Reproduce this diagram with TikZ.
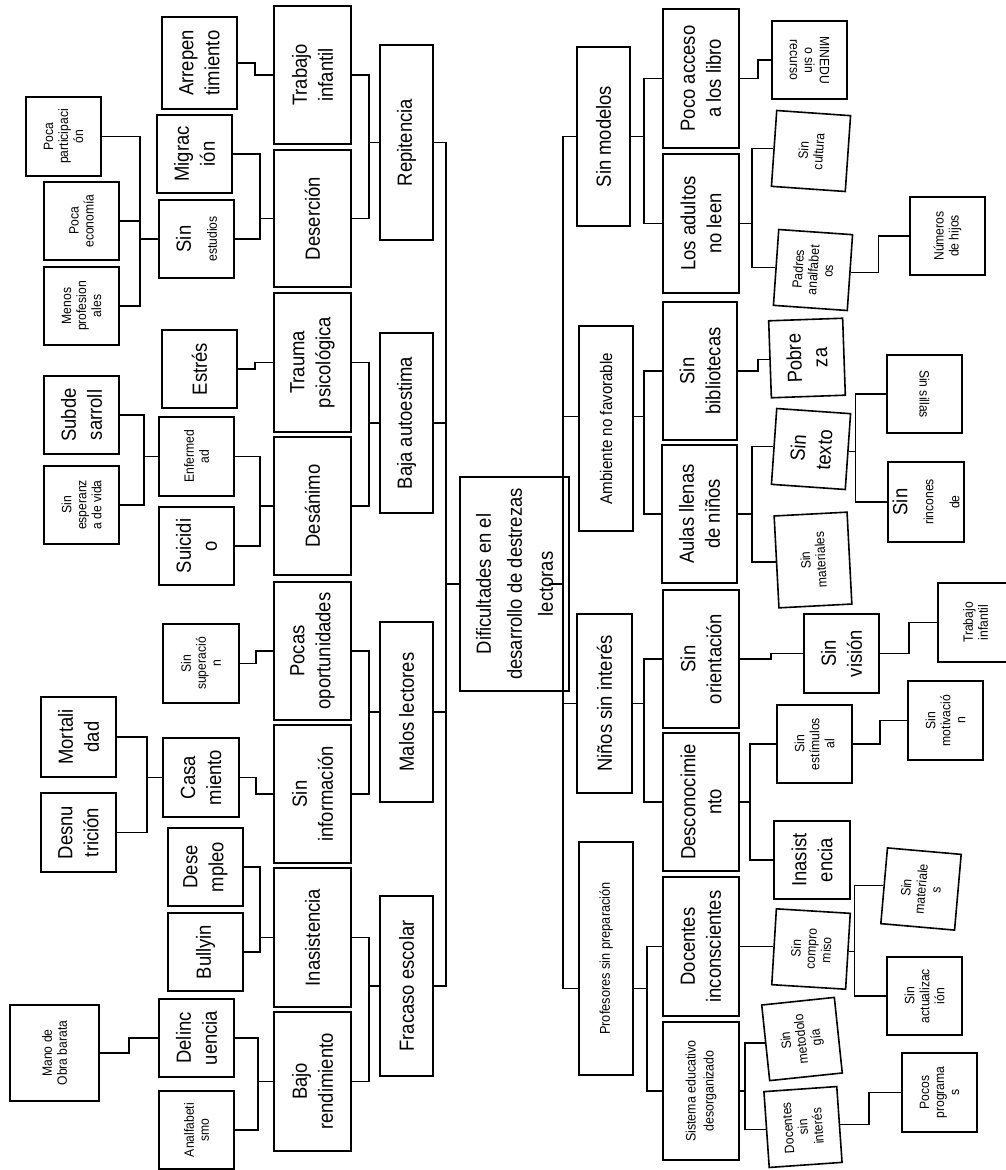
\documentclass[tikz,border=0pt]{standalone}
\usepackage{fontspec}
\setmainfont{Liberation Sans}[FakeStretch=0.9]
\usetikzlibrary{calc}
\newcommand\fbig{\fontsize{20.5}{26}\selectfont}
\newcommand\fsm{\fontsize{13.5}{15}\selectfont}
\newcommand\froot{\fontsize{20.5}{31}\selectfont}
\newcommand\famb{\fontsize{16.8}{20}\selectfont}
\newcommand\fprof{\fontsize{14.2}{17}\selectfont}
\newcommand\fsist{\fontsize{13.8}{18}\selectfont}
\newcommand\lconn[3]{\draw[cn] (#1.south) -| ($(#2.north)+(-#3,0)$) -- (#2.north);}
\newcommand\rconn[3]{\draw[cn] (#1.south) -- ++(#3,0) |- (#2.north);}
\newcommand\rconnu[3]{\draw[cn] (#1.south) -- ++(#3,0) |- (#2.south);}
\tikzset{
  nb/.style={draw, line width=1.6pt, rotate=90, inner sep=1pt, align=center, font=\fbig},
  sm/.style={font=\fsm},
  sz/.style 2 args={minimum height=#1pt, minimum width=#2pt},
  cn/.style={line width=1.5pt}
}
\begin{document}
\begin{tikzpicture}[x=1pt,y=-1pt]
\fill[white] (0,0) rectangle (1006,1170);
\useasboundingbox (0,0) rectangle (1006,1170);
% ---------- left side: level 1
\node[nb,sz={53}{195}] (rep) at (406.5,142.5) {Repitencia};
\node[nb,sz={53}{180}] (baja) at (406.5,423) {Baja autoestima};
\node[nb,sz={53}{180}] (malos) at (406.5,712) {Malos lectores};
\node[nb,sz={53}{180}] (fracaso) at (406.5,986) {Fracaso escolar};
% level 2
\node[nb,sz={77}{138}] (trab) at (312.5,75) {Trabajo\\infantil};
\node[nb,sz={77}{137}] (deser) at (312.5,218.5) {Deserción};
\node[nb,sz={77}{139}] (trauma) at (312.5,362.5) {Trauma\\psicológica};
\node[nb,sz={77}{138}] (desan) at (312.5,506) {Desánimo};
\node[nb,sz={77}{138}] (pocas) at (312.5,651) {Pocas\\oportunidades};
\node[nb,sz={77}{138}] (sininfo) at (312.5,794) {Sin\\información};
\node[nb,sz={77}{139}] (inasis) at (312.5,937.5) {Inasistencia};
\node[nb,sz={77}{139}] (bajo) at (312.5,1081.5) {Bajo\\rendimiento};
% level 3
\node[nb,sz={75}{92}] (arrep) at (199.5,63) {Arrepen\\timiento};
\node[nb,sz={75}{78}] (migr) at (194.5,154) {Migrac\\ión};
\node[nb,sz={75}{78}] (sinest) at (196.5,239) {Sin\\{\fsm estudios}};
\node[nb,sz={75}{78}] (estres) at (199.5,369) {Estrés};
\node[nb,sm,sz={75}{79}] (enferm) at (196.5,456.5) {Enfermed\\ad};
\node[nb,sz={75}{78}] (suic) at (196.5,546) {Suicidi\\o};
\node[nb,sm,sz={76}{79}] (sinsup) at (201,663.5) {Sin\\superació\\n};
\node[nb,sz={76}{79}] (casam) at (201,777.5) {Casa\\miento};
\node[nb,sz={75}{78}] (desemp) at (205.5,867) {Dese\\mpleo};
\node[nb,sz={75}{78}] (bully) at (205.5,952) {Bullyin};
\node[nb,sz={75}{78}] (delinc) at (196.5,1038) {Delinc\\uencia};
\node[nb,sm,sz={75}{78}] (analf) at (196.5,1130) {Analfabeti\\smo};
% level 4
\node[nb,sm,sz={75}{79}] (pocapart) at (63.5,136.5) {Poca\\participaci\\ón};
\node[nb,sm,sz={75}{78}] (pocaeco) at (81.5,221) {Poca\\economía};
\node[nb,sm,sz={75}{78}] (menos) at (81.5,306) {Menos\\profesion\\ales};
\node[nb,sz={75}{78}] (subde) at (81.5,415) {Subde\\sarroll};
\node[nb,sm,sz={75}{78}] (sinesp) at (81.5,505) {Sin\\esperanz\\a de vida};
\node[nb,sz={75}{80}] (mortal) at (78.5,737) {Mortali\\dad};
\node[nb,sz={75}{79}] (desnu) at (78.5,832.5) {Desnu\\trición};
\node[nb,sm,sz={89}{96}] (mano) at (54.5,1053) {Mano de\\Obra barata};
% ---------- root
\node[nb,sz={109}{214},font=\froot] (root) at (514.5,584) {Dificultades en el\\desarrollo de destrezas\\lectoras};
% ---------- right side: level 1
\node[nb,sz={53}{179}] (sinmod) at (603.5,136.5) {Sin modelos};
\node[nb,sz={54}{205},font=\famb] (amb) at (606,428.5) {Ambiente no favorable};
\node[nb,sz={55}{179}] (ninos) at (604.5,703.5) {Niños sin interés};
\node[nb,sz={54}{233},font=\fprof] (prof) at (606,958.5) {Profesores sin preparación};
% level 2
\node[nb,sz={76}{139}] (poco) at (701,78.5) {Poco acceso\\a los libro};
\node[nb,sz={76}{139}] (adultos) at (701,223.5) {Los adultos\\no leen};
\node[nb,sz={74}{138}] (sinbib) at (700,371) {Sin\\bibliotecas};
\node[nb,sz={75}{138}] (aulas) at (699.5,514) {Aulas llenas\\de niños};
\node[nb,sz={76}{138}] (sinori) at (701,659) {Sin\\orientación};
\node[nb,sz={76}{138}] (descon) at (701,802) {Desconocimie\\nto};
\node[nb,sz={76}{139}] (docinc) at (701,946.5) {Docentes\\inconscientes};
\node[nb,sz={76}{138},font=\fsist] (sist) at (701,1091) {Sistema educativo\\desorganizado};
% level 3
\node[nb,sm,sz={75}{78},rotate=180] (minedu) at (809.5,60) {MINEDU\\o sin\\recurso};
\node[nb,sm,sz={74}{76},rotate=-4] (sincult) at (811,151) {Sin\\cultura};
\node[nb,sm,sz={74}{76},rotate=-4] (padres) at (813,270) {Padres\\analfabet\\os};
\node[nb,sz={74}{77},rotate=2] (pobreza) at (807,358) {Pobre\\za};
\node[nb,sz={74}{76},rotate=-4] (sintexto) at (811,449) {Sin\\texto};
\node[nb,sm,sz={73}{92},rotate=3] (sinmat) at (813,560) {Sin\\materiales};
\node[nb,sz={75}{79}] (sinvis) at (841.5,653.5) {Sin\\visión};
\node[nb,sm,sz={75}{78}] (sinestim) at (814.5,744) {Sin\\estímulos\\al};
\node[nb,sz={76}{78}] (inasis2) at (812,860) {Inasist\\encia};
\node[nb,sm,sz={74}{76},rotate=-3.5] (sincomp) at (811,949) {Sin\\compro\\miso};
\node[nb,sm,sz={73}{76},rotate=6] (sinmet) at (802,1039) {Sin\\metodolo\\gía};
\node[nb,sm,sz={73}{76},rotate=4] (docsin) at (803,1127) {Docentes\\sin\\interés};
% level 4
\node[nb,sm,sz={75}{78}] (numeros) at (947.5,236) {Números\\de hijos};
\node[nb,sm,sz={75}{78},rotate=180] (sinsillas) at (924.5,394) {Sin sillas};
\node[nb,sz={76}{80}] (rincones) at (926,502) {Sin\\{\fsm rincones}\\{\fsm de}};
\node[nb,sm,sz={75}{79}] (trab2) at (975.5,622.5) {Trabajo\\infantil};
\node[nb,sm,sz={75}{79}] (sinmot) at (945.5,720.5) {Sin\\motivació\\n};
\node[nb,sm,sz={74}{76},rotate=-5] (sinmat2) at (921,889) {Sin\\materiale\\s};
\node[nb,sm,sz={75}{78}] (sinact) at (924.5,996) {Sin\\actualizac\\ión};
\node[nb,sm,sz={75}{79}] (pocosprog) at (939.5,1092.5) {Pocos\\programa\\s};
% ---------- left connectors
\lconn{pocapart}{sinest}{18}
\lconn{pocaeco}{sinest}{18}
\lconn{menos}{sinest}{18}
\lconn{subde}{enferm}{14}
\lconn{sinesp}{enferm}{14}
\lconn{mortal}{casam}{15}
\lconn{desnu}{casam}{15}
\lconn{mano}{delinc}{29}
\lconn{arrep}{trab}{18}
\lconn{migr}{deser}{13}
\lconn{sinest}{deser}{13}
\lconn{estres}{trauma}{18}
\lconn{enferm}{desan}{13}
\lconn{suic}{desan}{13}
\lconn{sinsup}{pocas}{17}
\lconn{casam}{sininfo}{17}
\lconn{desemp}{inasis}{13}
\lconn{bully}{inasis}{13}
\lconn{delinc}{bajo}{15}
\lconn{analf}{bajo}{15}
\lconn{trab}{rep}{10}
\lconn{deser}{rep}{10}
\lconn{trauma}{baja}{10}
\lconn{desan}{baja}{10}
\lconn{pocas}{malos}{10}
\lconn{sininfo}{malos}{10}
\lconn{inasis}{fracaso}{10}
\lconn{bajo}{fracaso}{10}
\lconn{rep}{root}{13}
\lconn{baja}{root}{13}
\lconn{malos}{root}{13}
\lconn{fracaso}{root}{13}
% ---------- right connectors
\draw[cn] ($(root.south)+(-21,0)$) -- ($(root.south)+(-7,0)$);
\draw[cn] ($(root.south)+(-7,0)$) |- (sinmod.north);
\draw[cn] ($(root.south)+(-7,0)$) |- ($(amb.north)+(0,-12)$);
\draw[cn] ($(root.south)+(-7,0)$) |- (ninos.north);
\draw[cn] ($(root.south)+(-7,0)$) |- ($(prof.north)+(0,30)$);
\rconn{sinmod}{poco}{13}
\rconn{sinmod}{adultos}{13}
\draw[cn] ($(amb.south)+(0,-12)$) -- ++(10,0) |- (sinbib.north);
\draw[cn] ($(amb.south)+(0,-12)$) -- ++(10,0) |- (aulas.north);
\rconn{ninos}{sinori}{11}
\rconn{ninos}{descon}{11}
\draw[cn] ($(prof.south)+(0,30)$) -- ++(13,0) |- (docinc.north);
\draw[cn] ($(prof.south)+(0,30)$) -- ++(13,0) |- (sist.north);
\rconnu{poco}{minedu}{18}
\rconn{adultos}{sincult}{12}
\rconn{adultos}{padres}{12}
\rconn{sinbib}{pobreza}{20}
\rconn{aulas}{sintexto}{14}
\rconn{aulas}{sinmat}{14}
\rconn{sinori}{sinvis}{31}
\rconn{descon}{sinestim}{10}
\rconn{descon}{inasis2}{10}
\rconn{docinc}{sincomp}{17}
\rconn{sist}{sinmet}{5}
\rconn{sist}{docsin}{5}
\rconn{padres}{numeros}{28}
\rconnu{sintexto}{sinsillas}{7}
\rconn{sintexto}{rincones}{7}
\rconn{sinvis}{trab2}{29}
\rconn{sinestim}{sinmot}{27}
\rconn{sincomp}{sinmat2}{6}
\rconn{sincomp}{sinact}{6}
\rconn{docsin}{pocosprog}{29}
\end{tikzpicture}
\end{document}
